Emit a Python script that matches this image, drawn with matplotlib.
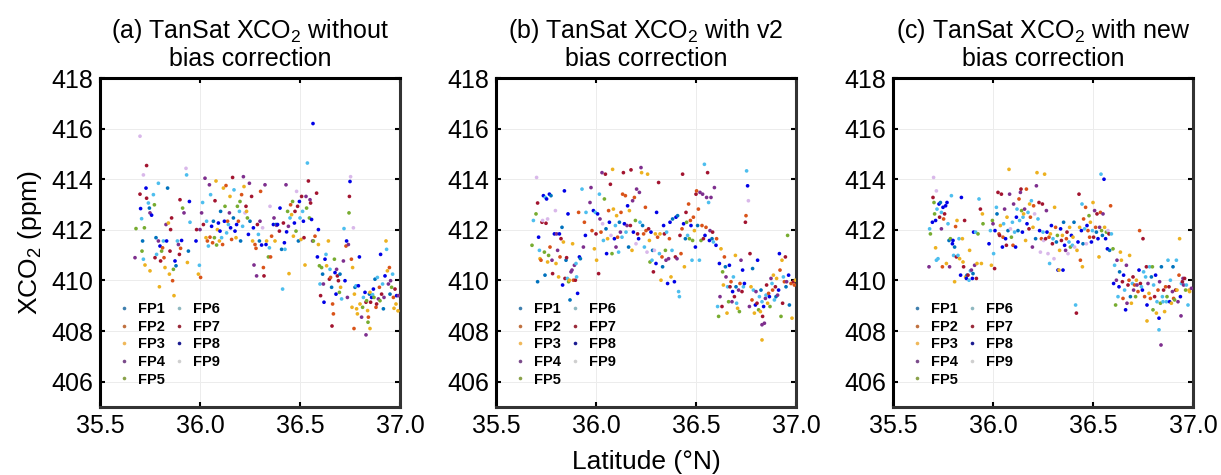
import matplotlib
matplotlib.use("Agg")
import matplotlib.pyplot as plt
from matplotlib.lines import Line2D

plt.rcParams['font.family'] = ['Liberation Sans', 'DejaVu Sans']
plt.rcParams['mathtext.fontset'] = 'custom'
plt.rcParams['mathtext.rm'] = 'Liberation Sans'
plt.rcParams['mathtext.it'] = 'Liberation Sans:italic'
plt.rcParams['mathtext.bf'] = 'Liberation Sans:bold'

fp_names = ['FP1', 'FP2', 'FP3', 'FP4', 'FP5', 'FP6', 'FP7', 'FP8', 'FP9']
fp_colors = ['#0072BD', '#D95319', '#EDB120', '#7E2F8E', '#77AC30',
             '#4DBEEE', '#A2142F', '#0000E6', '#D9B8EA']
legend_colors = ['#3f7fae', '#c0713f', '#f0b85a', '#7a4a8a', '#8aa24a',
                 '#8fb8c0', '#9a2a3a', '#1a1a90', '#cfcfcf']

titles = [r'(a) TanSat XCO$_2$ without' + '\nbias correction',
          r'(b) TanSat XCO$_2$ with v2' + '\nbias correction',
          r'(c) TanSat XCO$_2$ with new' + '\nbias correction']
xticks = [35.5, 36.0, 36.5, 37.0]
yticks = [406, 408, 410, 412, 414, 416, 418]

# ---------------- panel (a): without bias correction ----------------
lat_a = [
    35.675, 35.68, 35.70, 35.703, 35.717, 35.708, 35.713, 35.71, 35.717, 35.722, 35.725, 35.733, 35.73, 35.733, 35.742,
    35.747, 35.75, 35.75, 35.758, 35.767, 35.772, 35.775, 35.78, 35.783, 35.792, 35.792, 35.797, 35.80, 35.803, 35.808,
    35.813, 35.817, 35.82, 35.825, 35.83, 35.833, 35.838, 35.842, 35.847, 35.85, 35.853, 35.858, 35.863, 35.867, 35.87,
    35.875, 35.88, 35.887, 35.892, 35.897, 35.90, 35.903, 35.908, 35.913, 35.92, 35.93, 35.933, 35.937, 35.942, 35.947, 35.95,
    35.98, 35.983, 35.992, 35.997, 36.0, 36.003, 36.008, 36.013, 36.017, 36.025, 36.03, 36.033, 36.037, 36.042, 36.047,
    36.05, 36.053, 36.058, 36.063, 36.067, 36.072, 36.075, 36.08, 36.083, 36.087, 36.092, 36.097, 36.10, 36.103, 36.108,
    36.113, 36.117, 36.122, 36.125, 36.13, 36.133, 36.138, 36.142, 36.147, 36.15, 36.153, 36.158, 36.163, 36.167, 36.17,
    36.175, 36.18, 36.183, 36.187, 36.192, 36.197, 36.20, 36.203, 36.208, 36.213, 36.217, 36.22, 36.225, 36.23, 36.233,
    36.237, 36.242, 36.247, 36.25, 36.258, 36.263,
    36.267, 36.27, 36.275, 36.28, 36.283, 36.287, 36.292, 36.297, 36.30, 36.303, 36.308, 36.313, 36.317, 36.32, 36.325,
    36.33, 36.333, 36.342, 36.347, 36.35, 36.353, 36.358, 36.367, 36.37, 36.375, 36.38, 36.383, 36.388, 36.397, 36.40,
    36.408, 36.413, 36.417, 36.422, 36.425, 36.43, 36.433, 36.438, 36.442, 36.445, 36.45, 36.453, 36.458, 36.463, 36.467,
    36.472, 36.475, 36.48, 36.483, 36.488, 36.492, 36.497, 36.50, 36.505, 36.508, 36.513, 36.517, 36.52, 36.525, 36.53,
    36.533, 36.537, 36.542, 36.547, 36.55, 36.553, 36.558, 36.563, 36.567, 36.575, 36.583, 36.592, 36.565,
    36.587, 36.592, 36.597, 36.60, 36.603, 36.608, 36.613, 36.617, 36.62, 36.625, 36.63, 36.633, 36.642, 36.647, 36.65,
    36.653, 36.658, 36.663, 36.667, 36.672, 36.675, 36.68, 36.683, 36.687, 36.692, 36.697, 36.70, 36.703, 36.708, 36.717,
    36.72, 36.725, 36.73, 36.733, 36.737, 36.742, 36.745, 36.747, 36.75, 36.753, 36.757, 36.76, 36.763, 36.767, 36.772,
    36.775, 36.78, 36.783, 36.787, 36.792, 36.797, 36.80, 36.808, 36.813, 36.817, 36.825, 36.83, 36.833, 36.838, 36.842,
    36.847, 36.85, 36.853, 36.858, 36.863, 36.867, 36.87, 36.875, 36.88, 36.883, 36.887, 36.892, 36.897, 36.90, 36.903,
    36.908, 36.913, 36.917, 36.92, 36.925, 36.93, 36.933, 36.937, 36.942, 36.947, 36.95, 36.953, 36.958, 36.963, 36.967,
    36.975, 36.98, 36.983, 36.992, 36.66, 36.77, 36.83, 36.84, 36.85, 36.97, 36.99, 35.70]
xco2_a = [
    410.90, 412.05, 413.41, 412.84, 414.17, 412.44, 411.56, 411.16, 410.84, 412.08, 410.61, 414.54, 413.65, 413.25, 413.06,
    412.86, 410.38, 412.67, 412.58, 413.39, 412.99, 410.90, 411.69, 411.03, 413.84, 411.56, 409.75, 411.36, 410.77, 411.16,
    411.29, 411.56, 410.90, 410.51, 412.21, 411.56, 413.65, 412.27, 410.25, 411.16, 412.01, 412.47, 409.99, 410.44, 409.40,
    410.77, 410.58, 411.56, 411.42, 411.03, 413.19, 411.27, 411.58, 412.86, 412.67, 414.43, 414.17, 410.71, 411.16, 413.12, 412.30,
    411.56, 412.01, 410.25, 410.60, 412.01, 410.12, 412.67, 413.08, 412.21, 414.04, 411.69, 412.34, 411.56, 411.36, 413.78,
    411.71, 413.39, 412.14, 411.49, 412.34, 411.69, 413.15, 413.93, 411.40, 412.01, 412.27, 411.56, 411.95, 412.73, 411.69,
    411.42, 413.65, 412.34, 412.93, 413.75, 411.88, 412.34, 412.21, 412.67, 413.32, 412.08, 411.62, 414.07, 412.47, 413.58,
    411.95, 411.69, 412.21, 412.93, 412.34, 412.73, 413.12, 411.56, 413.39, 412.14, 414.10, 413.71, 412.67, 412.93, 412.73,
    412.47, 411.82, 413.84, 412.34, 413.32, 411.56,
    412.08, 410.61, 411.42, 411.27, 410.18, 412.21, 411.82, 411.56, 412.34, 413.52, 411.40, 412.08, 410.51, 410.18, 413.78,
    411.42, 411.56, 410.93, 411.29, 412.93, 410.93, 411.75, 412.21, 412.47, 411.56, 412.21, 412.18, 412.21, 411.95, 412.86,
    411.23, 409.66, 412.27, 411.49, 411.23, 413.78, 411.92, 412.73, 412.14, 410.27, 412.47, 412.99, 412.60, 413.12, 411.75,
    412.27, 412.73, 411.95, 413.52, 412.93, 411.56, 413.12, 412.47, 411.62, 413.32, 412.73, 412.34, 411.69, 410.61, 413.32,
    412.86, 414.64, 413.93, 412.47, 413.19, 413.06, 412.41, 411.56, 411.56, 411.75, 413.45, 412.01, 416.20,
    410.93, 411.42, 410.58, 409.86, 409.40, 410.51, 410.25, 409.86, 409.14, 410.84, 411.03, 410.58, 411.56, 410.05, 410.44,
    410.12, 409.73, 409.07, 408.68, 410.84, 410.31, 409.46, 410.44, 410.18, 409.99, 409.53, 410.25, 409.73, 409.27, 410.77,
    412.05, 409.99, 411.36, 411.56, 409.33, 411.42, 412.67, 413.32, 413.91, 414.10, 410.84, 408.94, 410.51, 412.08, 409.46,
    409.73, 409.79, 408.88, 408.68, 409.79, 410.93, 409.07, 408.55, 408.94, 409.33, 409.53, 409.14, 409.20, 408.81, 408.55,
    409.46, 409.53, 409.14, 409.33, 409.44, 409.66, 409.33, 410.05, 408.94, 409.07, 410.12, 409.27, 409.73, 409.20, 411.03,
    409.46, 409.86, 408.88, 409.33, 410.18, 411.56, 411.23, 410.38, 409.86, 410.51, 409.46, 409.99, 409.73, 410.25, 409.33,
    409.66, 409.07, 409.40, 409.40, 408.20, 408.10, 407.85, 408.35, 408.10, 408.90, 408.80, 415.70]
fp_a = [
    4, 5, 7, 8, 9, 6, 1, 5, 6, 5, 3, 7, 8, 7, 6, 1, 3, 4, 8, 6, 5, 7, 1, 6, 6, 4, 3, 8, 7, 5,
    2, 6, 2, 3, 4, 8, 1, 3, 3, 7, 7, 7, 2, 5, 3, 8, 1, 6, 4, 7, 7, 2, 8, 5, 4, 9, 6, 3, 1, 8, 6,
    8, 7, 3, 6, 4, 2, 4, 6, 7, 4, 3, 6, 2, 6, 4, 2, 6, 8, 2, 1, 5, 7, 3, 5, 3, 8, 3, 8, 1, 6,
    2, 3, 8, 5, 2, 6, 2, 6, 4, 3, 8, 2, 7, 1, 6, 8, 3, 8, 5, 2, 6, 5, 1, 2, 6, 4, 3, 9, 7, 3,
    5, 8, 4, 1, 7, 3,
    8, 4, 2, 2, 4, 7, 6, 1, 4, 2, 8, 9, 2, 7, 4, 8, 3, 5, 6, 9, 2, 2, 8, 4, 3, 1, 4, 8, 7, 8,
    1, 6, 7, 8, 6, 4, 8, 5, 4, 3, 6, 2, 3, 5, 3, 8, 7, 5, 9, 7, 1, 8, 6, 3, 7, 6, 8, 7, 3, 4,
    5, 6, 7, 5, 4, 7, 8, 4, 5, 2, 7, 8, 8,
    8, 3, 5, 6, 7, 5, 1, 4, 8, 8, 6, 3, 3, 7, 6, 2, 1, 2, 2, 5, 8, 8, 4, 7, 7, 5, 1, 3, 6, 4,
    6, 8, 2, 8, 4, 4, 5, 7, 8, 9, 2, 3, 3, 9, 3, 1, 6, 3, 3, 8, 8, 3, 4, 5, 6, 8, 7, 5, 3, 2,
    1, 3, 7, 8, 6, 8, 5, 1, 2, 7, 6, 4, 2, 5, 8, 7, 6, 1, 4, 8, 3, 6, 3, 4, 2, 1, 4, 5, 6, 2,
    7, 3, 8, 4, 7, 2, 4, 5, 3, 3, 3, 9]

# ---------------- panel (b): v2 bias correction ----------------
lat_b = [
    35.68, 35.687, 35.70, 35.703, 35.708, 35.708, 35.713, 35.717, 35.72, 35.725, 35.73, 35.733, 35.737, 35.742, 35.745,
    35.747, 35.75, 35.753, 35.758, 35.758, 35.763, 35.767, 35.77, 35.775, 35.78, 35.783, 35.792, 35.797, 35.80, 35.803,
    35.808, 35.813, 35.817, 35.82, 35.825, 35.83, 35.833, 35.837, 35.842, 35.845, 35.85, 35.853, 35.857, 35.86, 35.863,
    35.867, 35.87, 35.875, 35.88, 35.883, 35.887, 35.892, 35.897, 35.90, 35.903, 35.908, 35.913, 35.917, 35.922, 35.93,
    35.937, 35.942, 35.947, 35.95,
    35.97, 35.975, 35.98, 35.987, 35.992, 35.997, 36.0, 36.003, 36.008, 36.013, 36.017, 36.02, 36.025, 36.03, 36.033,
    36.037, 36.042, 36.047, 36.05, 36.053, 36.058, 36.063, 36.067, 36.072, 36.075, 36.08, 36.083, 36.087, 36.092, 36.097,
    36.10, 36.103, 36.108, 36.113, 36.117, 36.122, 36.125, 36.13, 36.133, 36.137, 36.142, 36.147, 36.15, 36.155, 36.158,
    36.163, 36.167, 36.172, 36.175, 36.18, 36.183, 36.187, 36.192, 36.197, 36.20, 36.203, 36.208, 36.213, 36.217, 36.22,
    36.225, 36.228, 36.233, 36.238, 36.242, 36.247, 36.25, 36.255, 36.258, 36.263, 36.267,
    36.27, 36.275, 36.28, 36.283, 36.287, 36.292, 36.297, 36.30, 36.303, 36.308, 36.313, 36.317, 36.32, 36.325, 36.33,
    36.333, 36.338, 36.342, 36.347, 36.35, 36.353, 36.358, 36.363, 36.367, 36.37, 36.375, 36.38, 36.383, 36.392, 36.397,
    36.40, 36.405, 36.408, 36.413, 36.417, 36.42, 36.425, 36.43, 36.433, 36.438, 36.442, 36.447, 36.45, 36.453, 36.458,
    36.463, 36.467, 36.472, 36.475, 36.48, 36.483, 36.487, 36.492, 36.497, 36.50, 36.503, 36.508, 36.512, 36.517, 36.52,
    36.525, 36.53, 36.533, 36.537, 36.542, 36.545, 36.55, 36.553, 36.558, 36.563, 36.567, 36.57, 36.575, 36.58, 36.583,
    36.587, 36.592,
    36.60, 36.603, 36.608, 36.613, 36.617, 36.62, 36.625, 36.63, 36.633, 36.637, 36.642, 36.647, 36.65, 36.655, 36.658,
    36.663, 36.667, 36.67, 36.675, 36.68, 36.683, 36.687, 36.692, 36.697, 36.70, 36.703, 36.708, 36.713, 36.717, 36.72,
    36.725, 36.73, 36.733, 36.737, 36.742, 36.747, 36.75, 36.753, 36.758, 36.762, 36.767, 36.77, 36.775, 36.78, 36.783,
    36.787, 36.792, 36.797, 36.80, 36.805, 36.808, 36.813, 36.817, 36.822, 36.825, 36.83, 36.833, 36.838, 36.842, 36.847,
    36.85, 36.853, 36.858, 36.863, 36.867, 36.87, 36.875, 36.88, 36.883, 36.887, 36.892, 36.897, 36.90, 36.903, 36.908,
    36.913, 36.917, 36.92, 36.925, 36.93, 36.933, 36.937, 36.942, 36.947, 36.95, 36.953, 36.958, 36.963, 36.967, 36.975,
    36.98, 36.987, 36.992, 36.997, 36.83, 36.83]
xco2_b = [
    411.39, 412.37, 412.63, 414.07, 413.06, 409.95, 411.71, 411.19, 410.86, 410.80, 412.30, 412.37, 413.35, 411.12, 410.21,
    413.28, 412.26, 413.22, 412.43, 410.73, 410.99, 413.41, 411.32, 413.35, 410.80, 410.27, 411.84, 412.76, 410.67, 411.84,
    411.19, 410.14, 411.84, 410.93, 411.65, 412.10, 409.82, 411.52, 413.54, 410.08, 410.80, 410.90, 410.08, 412.63, 409.95,
    410.01, 409.23, 410.34, 410.41, 411.45, 410.01, 410.60, 410.01, 410.67, 410.14, 409.49, 412.69, 410.93, 410.86, 413.61,
    411.32, 412.30, 411.78, 412.69,
    413.08, 413.67, 411.97, 412.76, 411.25, 412.69, 411.84, 410.80, 412.63, 410.27, 413.41, 412.43, 411.91, 414.26, 412.24,
    411.58, 413.22, 414.20, 412.04, 411.06, 411.65, 412.76, 412.30, 413.80, 411.78, 411.06, 414.39, 412.82, 411.65, 412.17,
    411.32, 412.56, 411.71, 411.12, 412.30, 411.91, 412.69, 411.71, 413.41, 414.26, 412.24, 413.35, 411.91, 412.17, 412.95,
    411.32, 412.76, 412.17, 414.37, 411.19, 413.15, 411.91, 413.28, 412.37, 411.45, 413.61, 411.84, 411.65, 413.48, 412.30,
    414.46, 414.26, 412.17, 411.84, 411.32, 412.89, 411.97, 411.12, 414.20, 412.04, 411.58,
    410.73, 411.91, 410.80, 411.19, 410.34, 411.19, 411.84, 410.67, 412.69, 411.71, 413.87, 411.06, 411.84, 410.01, 410.93,
    410.54, 412.17, 411.84, 411.19, 410.80, 411.91, 409.88, 410.86, 411.65, 412.30, 410.14, 411.19, 412.43, 409.95, 410.93,
    412.50, 410.86, 412.56, 409.56, 409.36, 411.78, 411.06, 412.04, 414.20, 412.24, 410.54, 411.65, 412.69, 412.30, 411.78,
    413.02, 411.65, 412.37, 412.17, 410.80, 411.58, 412.50, 411.97, 411.32, 413.41, 413.54, 412.17, 412.82, 410.80, 413.48,
    411.58, 412.17, 413.41, 411.65, 414.59, 411.78, 412.10, 413.28, 414.26, 413.08, 411.58, 411.97, 413.28, 411.65, 411.91,
    411.52, 413.67,
    411.39, 411.65, 408.97, 408.58, 410.67, 409.36, 411.25, 408.97, 410.34, 409.82, 410.93, 410.54, 410.14, 408.71, 409.75,
    409.16, 410.60, 409.75, 409.95, 409.16, 409.56, 410.14, 409.36, 410.99, 409.75, 409.10, 408.90, 409.62, 408.77, 409.88,
    410.80, 409.56, 410.41, 409.75, 409.88, 412.30, 412.56, 414.33, 413.74, 413.15, 408.97, 411.06, 409.75, 409.23, 410.47,
    409.62, 408.71, 409.03, 409.56, 409.10, 410.80, 408.84, 409.36, 408.77, 409.62, 409.16, 408.58, 408.97, 408.31, 409.29,
    409.42, 409.82, 409.10, 409.49, 409.36, 408.97, 410.08, 409.88, 409.62, 410.21, 409.23, 409.75, 409.36, 410.08, 409.42,
    409.62, 411.06, 410.41, 408.58, 410.80, 409.10, 410.14, 409.95, 410.93, 409.75, 409.95, 411.78, 410.21, 409.03, 409.88,
    408.51, 409.95, 409.82, 410.01, 407.65, 408.25]
fp_b = [
    5, 6, 5, 9, 7, 1, 8, 6, 3, 2, 7, 9, 8, 5, 1, 6, 7, 8, 9, 3, 5, 8, 2, 1, 4, 7, 8, 9, 3, 4,
    4, 3, 8, 2, 7, 1, 8, 3, 8, 7, 1, 7, 6, 8, 5, 3, 1, 4, 4, 3, 2, 4, 7, 6, 6, 8, 2, 8, 1, 6,
    4, 2, 8, 6,
    4, 4, 2, 8, 3, 6, 7, 3, 8, 7, 6, 4, 2, 4, 9, 6, 5, 7, 1, 8, 3, 2, 8, 7, 9, 5, 3, 3, 8, 6,
    4, 3, 2, 6, 1, 4, 2, 6, 2, 7, 8, 2, 6, 4, 8, 1, 3, 7, 7, 3, 4, 8, 2, 5, 9, 4, 7, 8, 4, 6,
    4, 3, 1, 2, 6, 2, 2, 9, 3, 7, 3,
    5, 8, 6, 1, 7, 9, 3, 8, 8, 2, 7, 6, 3, 3, 2, 1, 8, 7, 5, 4, 6, 8, 4, 2, 8, 3, 6, 1, 8, 7,
    8, 4, 1, 6, 6, 7, 2, 2, 7, 8, 3, 1, 7, 5, 6, 2, 5, 2, 8, 6, 5, 2, 3, 8, 7, 2, 1, 2, 6, 4,
    5, 2, 4, 7, 6, 8, 2, 4, 7, 6, 8, 4, 4, 1, 7, 6, 4,
    8, 2, 6, 5, 8, 4, 3, 7, 5, 3, 2, 1, 4, 3, 6, 5, 8, 7, 2, 4, 8, 6, 7, 3, 1, 6, 3, 4, 5, 2,
    4, 7, 8, 6, 8, 7, 2, 6, 8, 9, 4, 7, 3, 2, 1, 6, 3, 8, 4, 7, 8, 5, 6, 3, 1, 6, 7, 8, 4, 4,
    6, 7, 3, 2, 8, 5, 4, 6, 2, 3, 6, 7, 1, 3, 4, 8, 8, 2, 5, 3, 7, 6, 2, 7, 1, 4, 5, 8, 1, 2,
    3, 7, 2, 3, 3, 4]

# ---------------- panel (c): new bias correction ----------------
lat_c = [
    35.68, 35.683, 35.687, 35.697, 35.70, 35.703, 35.705, 35.708, 35.713, 35.713, 35.717, 35.717, 35.72, 35.725, 35.73,
    35.733, 35.737, 35.742, 35.742, 35.747, 35.75, 35.753, 35.758, 35.763, 35.767, 35.77, 35.775, 35.78, 35.783, 35.787,
    35.792, 35.797, 35.80, 35.803, 35.808, 35.808, 35.813, 35.817, 35.82, 35.825, 35.83, 35.833, 35.838, 35.842, 35.847,
    35.85, 35.853, 35.858, 35.863, 35.867, 35.87, 35.875, 35.88, 35.883, 35.887, 35.892, 35.897, 35.90, 35.903, 35.908,
    35.913, 35.917, 35.92, 35.925, 35.93, 35.937, 35.942, 35.947, 35.95,
    35.98, 35.987, 35.992, 35.997, 36.0, 36.003, 36.008, 36.01, 36.017, 36.02, 36.025, 36.03, 36.033, 36.037, 36.042,
    36.047, 36.05, 36.053, 36.058, 36.063, 36.067, 36.07, 36.075, 36.08, 36.083, 36.087, 36.092, 36.097, 36.10, 36.103,
    36.108, 36.113, 36.117, 36.12, 36.125, 36.13, 36.133, 36.137, 36.14, 36.143, 36.147, 36.15, 36.153, 36.158, 36.163,
    36.167, 36.17, 36.175, 36.18, 36.183, 36.187, 36.192, 36.197, 36.20, 36.203, 36.208, 36.213, 36.217, 36.22, 36.225,
    36.23, 36.233, 36.237, 36.242, 36.247, 36.25, 36.253, 36.258, 36.263, 36.267,
    36.27, 36.275, 36.28, 36.283, 36.287, 36.292, 36.297, 36.30, 36.305, 36.308, 36.313, 36.317, 36.322, 36.325, 36.33,
    36.333, 36.338, 36.342, 36.347, 36.35, 36.353, 36.358, 36.363, 36.367, 36.37, 36.375, 36.38, 36.383, 36.387, 36.392,
    36.397, 36.40, 36.405, 36.408, 36.413, 36.417, 36.42, 36.425, 36.43, 36.433, 36.437, 36.442, 36.445, 36.447, 36.45,
    36.453, 36.458, 36.463, 36.467, 36.47, 36.475, 36.48, 36.483, 36.487, 36.492, 36.497, 36.50, 36.503, 36.508, 36.513,
    36.517, 36.52, 36.525, 36.53, 36.533, 36.537, 36.54, 36.543, 36.547, 36.55, 36.555, 36.558, 36.563, 36.567, 36.572,
    36.575, 36.58, 36.583, 36.588, 36.592,
    36.60, 36.603, 36.608, 36.613, 36.617, 36.62, 36.625, 36.63, 36.633, 36.637, 36.642, 36.647, 36.65, 36.653, 36.658,
    36.663, 36.667, 36.67, 36.675, 36.68, 36.683, 36.687, 36.692, 36.697, 36.70, 36.703, 36.708, 36.713, 36.717, 36.72,
    36.725, 36.73, 36.733, 36.737, 36.742, 36.747, 36.75, 36.753, 36.758, 36.763, 36.767, 36.77, 36.775, 36.78, 36.783,
    36.787, 36.792, 36.797, 36.80, 36.803, 36.808, 36.813, 36.817, 36.82, 36.825, 36.83, 36.833, 36.837, 36.842, 36.847,
    36.85, 36.853, 36.858, 36.863, 36.867, 36.87, 36.875, 36.88, 36.883, 36.887, 36.892, 36.897, 36.90, 36.903, 36.908,
    36.913, 36.917, 36.92, 36.925, 36.93, 36.933, 36.937, 36.942, 36.947, 36.95, 36.953, 36.958, 36.963, 36.967, 36.975,
    36.98, 36.983, 36.992, 36.83, 36.84, 36.77, 36.94]
xco2_c = [
    410.54, 412.04, 411.84, 412.30, 413.28, 414.07, 413.08, 412.63, 412.37, 411.29, 413.54, 410.80, 412.82, 410.86, 413.02,
    412.50, 413.08, 412.69, 412.04, 410.54, 412.89, 412.43, 412.63, 412.95, 410.67, 413.08, 412.24, 411.58, 410.54, 411.65,
    413.35, 411.45, 411.58, 410.99, 411.32, 409.95, 412.13, 410.93, 412.37, 410.99, 411.65, 410.86, 410.21, 413.28, 411.65,
    410.73, 410.54, 412.37, 410.14, 410.08, 410.21, 410.21, 410.01, 411.19, 410.38, 410.41, 410.08, 410.27, 411.91, 410.60,
    411.91, 410.08, 410.67, 411.84, 413.22, 412.82, 410.67, 412.63, 412.24,
    411.45, 411.97, 410.60, 412.37, 412.24, 411.06, 410.47, 411.97, 412.89, 412.63, 413.48, 411.84, 411.78, 412.17, 413.41,
    411.32, 411.71, 412.24, 412.82, 411.65, 411.39, 412.50, 411.97, 414.39, 413.41, 412.04, 411.71, 412.30, 411.39, 413.02,
    411.91, 411.32, 412.50, 412.82, 411.97, 413.22, 412.37, 413.48, 413.61, 412.76, 411.91, 412.50, 412.63, 412.82, 411.58,
    413.61, 412.24, 412.69, 412.04, 413.02, 412.50, 413.15, 411.32, 412.10, 412.95, 412.63, 411.65, 413.74, 414.26, 412.43,
    413.08, 411.97, 411.12, 411.65, 413.02, 411.91, 411.58, 414.20, 411.65, 412.76,
    411.91, 411.06, 411.71, 410.67, 411.84, 412.17, 411.45, 411.65, 410.86, 412.89, 412.10, 411.52, 411.78, 410.41, 410.41,
    411.19, 412.04, 411.58, 411.78, 410.41, 412.30, 411.39, 411.19, 411.65, 411.91, 411.06, 411.52, 412.10, 411.32, 411.78,
    411.39, 411.71, 412.30, 411.32, 409.03, 408.71, 411.19, 411.52, 413.41, 412.10, 410.80, 411.97, 413.02, 410.54, 411.45,
    412.43, 412.04, 412.89, 411.45, 412.17, 411.97, 412.56, 411.71, 412.30, 411.52, 411.97, 413.08, 411.71, 412.76, 412.10,
    411.91, 412.63, 411.65, 410.93, 412.10, 412.69, 414.20, 411.97, 411.78, 412.63, 414.00, 412.10, 411.65, 411.91, 411.25,
    411.97, 411.84, 411.19, 412.95, 411.84,
    411.25, 409.88, 410.60, 409.03, 410.01, 410.80, 409.36, 409.75, 410.34, 411.12, 410.80, 409.95, 409.29, 410.21, 409.62,
    408.84, 410.60, 409.10, 409.82, 410.01, 410.99, 409.36, 409.10, 409.88, 410.14, 409.62, 409.82, 409.36, 410.01, 409.82,
    409.56, 410.41, 411.97, 409.88, 409.75, 409.62, 411.65, 410.34, 409.36, 410.14, 410.54, 409.03, 409.88, 409.49, 410.54,
    409.29, 410.14, 410.54, 408.84, 409.82, 409.36, 410.21, 408.71, 409.16, 409.62, 408.51, 409.95, 409.10, 410.54, 409.36,
    409.16, 409.62, 408.77, 409.75, 409.16, 409.36, 410.80, 409.75, 409.16, 410.01, 409.10, 409.56, 410.54, 409.29, 409.23,
    409.62, 410.80, 409.62, 409.16, 410.21, 411.65, 409.36, 409.88, 409.95, 410.08, 409.82, 410.08, 409.62, 409.82, 409.03,
    409.62, 409.56, 409.69, 408.05, 407.45, 408.40, 408.60]
fp_c = [
    4, 6, 5, 8, 7, 9, 5, 5, 8, 3, 9, 6, 6, 6, 8, 7, 1, 6, 4, 2, 8, 2, 7, 8, 3, 8, 6, 1, 4, 5,
    6, 8, 8, 6, 1, 3, 2, 7, 3, 6, 6, 3, 8, 8, 3, 3, 7, 7, 3, 8, 1, 7, 6, 3, 6, 4, 8, 1, 8, 4,
    6, 7, 3, 5, 6, 7, 3, 3, 5,
    8, 6, 3, 5, 4, 6, 7, 8, 6, 1, 7, 2, 7, 3, 7, 8, 2, 6, 4, 8, 7, 3, 1, 3, 4, 9, 5, 6, 2, 4,
    6, 8, 8, 6, 1, 2, 6, 4, 7, 5, 8, 6, 3, 4, 3, 2, 8, 6, 7, 3, 2, 6, 4, 3, 2, 9, 1, 4, 3, 6,
    7, 8, 9, 2, 7, 6, 9, 3, 7, 4,
    8, 9, 2, 6, 3, 8, 7, 6, 9, 3, 2, 1, 5, 8, 3, 3, 8, 7, 3, 8, 1, 8, 4, 2, 7, 9, 6, 3, 5, 8,
    6, 3, 1, 9, 6, 7, 3, 8, 7, 3, 2, 8, 6, 3, 1, 2, 6, 2, 9, 8, 2, 5, 2, 3, 8, 6, 3, 7, 4, 2,
    1, 7, 8, 3, 4, 2, 6, 5, 1, 4, 8, 3, 8, 5, 8, 9, 7, 1, 2, 6,
    5, 8, 6, 5, 4, 4, 6, 8, 1, 3, 3, 7, 2, 8, 6, 8, 4, 4, 7, 2, 3, 1, 3, 6, 7, 4, 2, 5, 3, 4,
    2, 8, 2, 7, 6, 8, 7, 6, 2, 6, 7, 8, 4, 3, 6, 2, 1, 5, 5, 6, 7, 8, 3, 6, 2, 8, 4, 5, 1, 6,
    6, 7, 3, 2, 6, 5, 6, 7, 8, 6, 3, 4, 1, 2, 5, 7, 6, 3, 4, 2, 3, 8, 6, 7, 4, 4, 7, 5, 6, 6,
    3, 3, 4, 6, 4, 3, 4]

panels = [(lat_a, xco2_a, fp_a), (lat_b, xco2_b, fp_b), (lat_c, xco2_c, fp_c)]

W, H = 1221, 475
fig = plt.figure(figsize=(W / 100, H / 100), dpi=100)
lefts = [100, 496, 893]
ax_w = 300
ax_top, ax_bot = 78, 407

for i, (lat, xco2, fp) in enumerate(panels):
    n = min(len(lat), len(xco2), len(fp))
    ax = fig.add_axes([lefts[i] / W, 1 - ax_bot / H, ax_w / W, (ax_bot - ax_top) / H])
    ax.set_xlim(35.5, 37.0)
    ax.set_ylim(405, 418)
    ax.set_xticks(xticks)
    ax.set_xticklabels([f'{v:.1f}' for v in xticks])
    ax.set_yticks(yticks)
    ax.grid(True, color='#ececec', lw=0.7, zorder=0)
    ax.set_axisbelow(True)
    cols = [fp_colors[k - 1] for k in fp[:n]]
    ax.scatter(lat[:n], xco2[:n], s=7, c=cols, linewidths=0, zorder=3)
    ax.tick_params(direction='in', length=3.5, width=1.5, top=True, right=True,
                   labelsize=18, pad=5, colors='black')
    for side in ['top', 'left']:
        ax.spines[side].set_color('black')
        ax.spines[side].set_linewidth(2.2)
    for side in ['bottom', 'right']:
        ax.spines[side].set_color('#333333')
        ax.spines[side].set_linewidth(2.2)
    ax.set_title(titles[i], fontsize=18, pad=9, linespacing=1.08)
    handles = [Line2D([], [], ls='', marker='o', markersize=2.6, color=c, markeredgewidth=0)
               for c in legend_colors]
    ax.legend(handles, fp_names, ncol=2, loc='lower left', bbox_to_anchor=(0.062, 0.062),
              frameon=False, borderaxespad=0, borderpad=0, handlelength=0.8,
              handletextpad=0.55, columnspacing=0.55, labelspacing=0.25,
              prop={'weight': 'bold', 'size': 10.5})
    if i == 0:
        ax.set_ylabel(r'XCO$_2$ (ppm)', fontsize=19, labelpad=5)

fig.text(646 / W, 1 - 462 / H, 'Latitude (°N)', ha='center', va='center', fontsize=19)
fig.savefig('out.png', dpi=100)
